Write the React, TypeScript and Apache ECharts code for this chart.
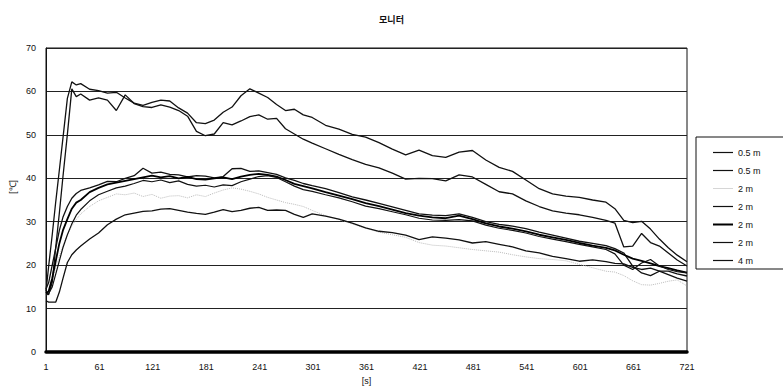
import React, { useEffect, useRef } from "react";
import * as echarts from "echarts";

const titleText = "모니터";
const yAxisName = "[℃]";
const xAxisName = "[s]";

// time in seconds
const times = [1, 4, 8, 12, 16, 20, 25, 30, 35, 40,
  50, 60, 70, 80, 90, 100, 110, 120, 130, 140, 150, 160, 170, 180, 190, 200, 210, 220, 230, 240, 250, 260, 270, 280, 290, 300,
  315, 330, 345, 360, 375, 390, 405, 420, 435, 450, 465, 480, 495, 510, 525, 540, 555, 570, 585, 600, 615, 630,
  640, 650, 660, 670, 680, 690, 700, 710, 721];

const seriesNames = ["0.5 m", "0.5 m ", "2 m", "2 m ", "2 m  ", "2 m   ", "4 m"];

const a05 = [14, 19.8, 27, 34.7, 41.9, 49.2, 58.4, 62.2, 61.5, 61.8,
  60.5, 60.2, 59.6, 59.8, 58.5, 57.3, 56.8, 57.5, 58, 57.8, 56.2, 55, 52.8, 52.6, 53.4, 55.2, 56.4, 59, 60.6, 59.6, 58.6, 57, 55.6, 55.9, 54.6, 54,
  52.2, 51.3, 50.1, 49.5, 48.2, 46.7, 45.4, 46.5, 45.2, 44.8, 46, 46.4, 44.2, 42.5, 41.6, 39.6, 37.6, 36.4, 35.9, 35.6, 35, 34.5,
  33, 30.3, 29.8, 30.1, 28.3, 26, 24, 22.3, 20.8];

const b05 = [13.8, 13.2, 16.1, 24.3, 32, 40.3, 50.1, 60.6, 58.8, 59.4,
  58, 58.5, 58, 55.6, 59.2, 57.2, 56.5, 56.3, 56.9, 56.4, 55.6, 54.3, 50.8, 49.8, 50.2, 52.8, 52.3, 53.2, 54.2, 54.6, 53.6, 53.8, 51.4, 50.2, 49, 48.1,
  46.8, 45.5, 44.3, 43.2, 42.4, 41.2, 39.8, 40, 39.9, 39.4, 40.8, 40.3, 38.6, 36.9, 36.4, 34.8, 33.5, 32.5, 32, 31.6, 31, 30.3,
  29.7, 24.2, 24.4, 27.3, 25.2, 24.4, 22.8, 21.2, 19.8];

const d2 = [13, 14, 16.5, 19.5, 22, 24.5, 27, 29, 30.5, 31.8,
  33.5, 34.8, 35.6, 36.4, 36.2, 36.6, 35.8, 36.3, 35.4, 35.9, 36, 35.5, 36.2, 35.8, 36.6, 37.3, 37.8, 37.5, 37, 36.4, 35.6, 35, 34.4, 34, 33.5, 32.6,
  31.4, 30.5, 29.5, 28.5, 27.6, 27, 26.4, 25.2, 24.6, 24.4, 24, 23.6, 23.3, 23, 22.4, 21.9, 21.5, 21.3, 21, 20.2, 19.4, 18.6,
  18.4, 17.6, 16.4, 15.5, 15.4, 15.8, 16.3, 16.6, 15.2];

const c1 = [14.5, 16, 20, 24, 28, 31, 33.5, 35.4, 36.5, 37.2,
  37.8, 38.5, 39.3, 39.2, 40, 40.6, 42.3, 41.2, 41.4, 40.9, 40.8, 40.3, 40.6, 40.5, 40.1, 40.4, 42.2, 42.3, 41.6, 41.7, 41.3, 40.9, 40.1, 39.5, 38.8, 38.3,
  37.6, 36.7, 35.7, 35, 34.2, 33.4, 32.6, 31.8, 31.5, 31.4, 31.8, 31, 30, 29.4, 29, 28.4, 27.6, 26.9, 26.2, 25.5, 25, 24.5,
  23.8, 22.8, 19.8, 18.2, 17.6, 18.6, 18.6, 18, 17.5];

const c2 = [13.5, 14, 17, 21, 25, 28, 30.6, 33, 34.4, 35,
  36.8, 37.8, 38.6, 39, 39.4, 39.8, 40.2, 40.6, 40.2, 40.5, 40, 40.3, 39.8, 39.7, 40, 40.2, 39.8, 40.4, 40.8, 41, 40.8, 40.4, 39.6, 38.7, 38.2, 37.7,
  36.8, 36, 35.2, 34.3, 33.6, 32.8, 32, 31.4, 31, 30.8, 31.4, 30.6, 29.6, 28.9, 28.4, 27.8, 27, 26.4, 25.8, 25.1, 24.5, 24,
  23.4, 22.4, 21.5, 21, 20.4, 19.8, 19.3, 18.8, 18.3];

const c3 = [13, 13.5, 15, 18, 21, 24, 27, 29.5, 31.5, 32.8,
  34.8, 36.2, 37, 37.8, 38.2, 38.8, 39.5, 39.2, 39.6, 39, 39.4, 38.6, 38.2, 38.4, 38, 38.5, 38.3, 39.2, 39.8, 40.4, 40.6, 40.2, 39.2, 38.2, 37.4, 37,
  36.2, 35.5, 34.6, 33.6, 33, 32.3, 31.6, 30.8, 30.4, 30.3, 30.5, 30.2, 29.2, 28.5, 28, 27.4, 26.6, 26, 25.4, 24.8, 24.2, 23.6,
  22.6, 20, 19, 20.5, 21.3, 19.8, 19, 18.5, 18.2];

const e4 = [11.8, 11.5, 11.5, 11.5, 13.8, 16.9, 20.6, 22.4, 23.5, 24.4,
  26, 27.4, 29.3, 30.6, 31.6, 32, 32.4, 32.5, 32.9, 33, 32.6, 32.2, 31.9, 31.7, 32.2, 32.8, 32.3, 32.6, 33.1, 33.3, 32.6, 32.7, 32.6, 31.7, 31, 31.8,
  31.3, 30.6, 29.7, 28.6, 27.8, 27.5, 26.9, 25.9, 26.5, 26.2, 25.8, 25.1, 25.4, 24.8, 24.2, 23.3, 22.8, 22, 21.5, 20.9, 21.2, 20.8,
  20.4, 20.3, 19.5, 19, 19.3, 18.6, 17.8, 17, 16.3];

const seriesValues = [a05, b05, d2, c1, c2, c3, e4];

const yTicks = { min: 0, max: 70, interval: 10 };
const xTicks = { min: 1, max: 721, interval: 60 };

export default function App() {
  const ref = useRef<HTMLDivElement>(null);
  useEffect(() => {
    if (!ref.current) return;
    const chart = echarts.init(ref.current, null, { renderer: "svg" });
    const font = "Liberation Sans, Arial, sans-serif";
    const styles = [
      { color: "#111", width: 1.3, type: "solid", icon: 1.2 },
      { color: "#111", width: 1.3, type: "solid", icon: 1.2 },
      { color: "#bbb", width: 1, type: "dotted", icon: 0.6 },
      { color: "#111", width: 1.3, type: "solid", icon: 1.2 },
      { color: "#000", width: 1.8, type: "solid", icon: 2 },
      { color: "#111", width: 1.2, type: "solid", icon: 1.2 },
      { color: "#111", width: 1.3, type: "solid", icon: 1.2 },
    ];
    const series = seriesValues.map((vals, i) => ({
      name: seriesNames[i],
      type: "line",
      symbol: "none",
      color: styles[i].color,
      lineStyle: { color: styles[i].color, width: styles[i].width, type: styles[i].type },
      data: vals.map((v, k) => [times[k] - xTicks.min, v]),
      z: i === 2 ? 1 : 2,
    }));
    chart.setOption({
      animation: false,
      backgroundColor: "#fff",
      title: {
        text: titleText,
        left: "center",
        top: 10,
        textStyle: { fontSize: 9, fontWeight: "bold", color: "#111", fontFamily: "Noto Sans CJK KR" },
      },
      grid: { left: 46, right: 96, top: 48, bottom: 37, show: true, borderColor: "#111", borderWidth: 1 },
      legend: {
        orient: "vertical",
        left: 696,
        top: 137,
        padding: [11, 40, 4, 17],
        itemWidth: 20,
        itemHeight: 10,
        itemGap: 9,
        borderColor: "#111",
        borderWidth: 1,
        symbolKeepAspect: true,
        data: seriesNames.map((n, i) => ({
          name: n,
          icon: "path://M0,0 L20,0 L20," + styles[i].icon + " L0," + styles[i].icon + " Z",
          itemStyle: { color: styles[i].color },
        })),
        textStyle: { fontSize: 9, color: "#111", fontFamily: font },
      },
      graphic: [
        {
          type: "text",
          x: 13,
          y: 187,
          rotation: Math.PI / 2,
          style: { text: yAxisName, fontSize: 9, fill: "#111", fontFamily: font, align: "center", verticalAlign: "middle" },
        },
      ],
      xAxis: {
        type: "value",
        min: 0,
        max: xTicks.max - xTicks.min,
        interval: xTicks.interval,
        name: xAxisName,
        nameLocation: "middle",
        nameGap: 24,
        nameTextStyle: { fontSize: 9, color: "#111", fontFamily: font },
        axisLine: { show: true, lineStyle: { color: "#000", width: 3.5 } },
        axisTick: { show: false },
        splitLine: { show: false },
        axisLabel: {
          margin: 10,
          fontSize: 9,
          color: "#111",
          fontFamily: font,
          formatter: (v: number) => String(v + xTicks.min),
        },
      },
      yAxis: {
        type: "value",
        min: yTicks.min,
        max: yTicks.max,
        interval: yTicks.interval,
        axisLine: { show: true, lineStyle: { color: "#111", width: 1 } },
        axisTick: { show: false },
        splitLine: { show: true, lineStyle: { color: "#222", width: 1 } },
        axisLabel: { margin: 10, fontSize: 9, color: "#111", fontFamily: font },
      },
      series,
    });
    return () => chart.dispose();
  }, []);
  return <div ref={ref} style={{ width: 783, height: 390, position: "absolute", left: 0, top: 0 }} />;
}
